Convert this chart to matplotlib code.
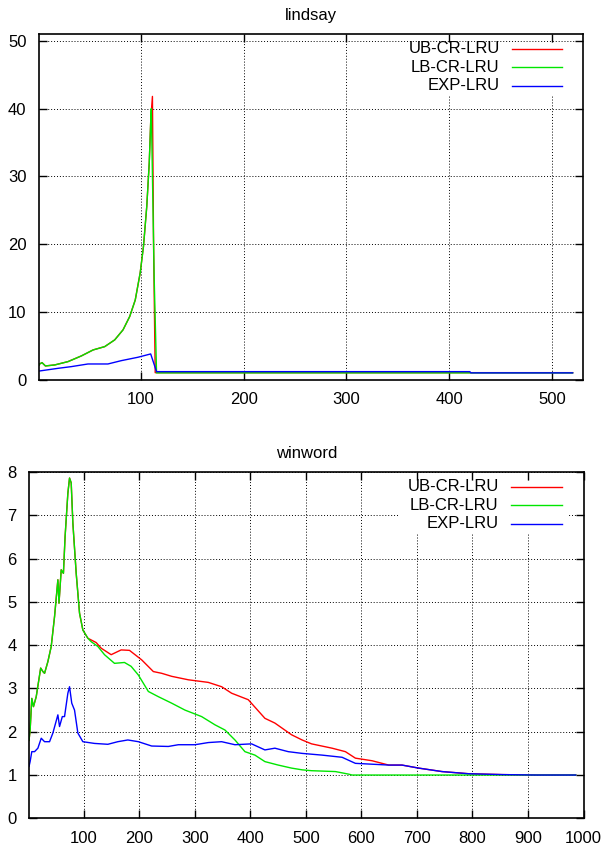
import matplotlib
matplotlib.use('Agg')
import matplotlib.pyplot as plt
from matplotlib.patches import Rectangle

plt.rcParams['font.family'] = ['Liberation Sans', 'DejaVu Sans']
plt.rcParams['font.size'] = 12

SERIES = ['UB-CR-LRU', 'LB-CR-LRU', 'EXP-LRU']
COLORS = ['#ff0000', '#00e600', '#0000ff']

# lindsay
lin_head_x = [1, 1.6, 3.9, 7.2, 16.3, 29.2, 42.2, 53.6, 64.9, 74.6, 82.7, 89.2, 94.6, 99.4, 102.6, 105.8, 108.2]
lin_head_y = [2.2, 2.36, 2.56, 2.07, 2.22, 2.71, 3.55, 4.43, 4.92, 5.91, 7.39, 9.36, 11.8, 15.8, 19.7, 25.6, 32]
lin_ub_x = lin_head_x + [109.7, 111.3, 112.4, 114, 520]
lin_ub_y = lin_head_y + [38.4, 41.8, 20, 1.08, 1.08]
lin_lb_x = lin_head_x + [109.7, 110.2, 113, 115.3, 520]
lin_lb_y = lin_head_y + [38.4, 40, 15, 1.05, 1.05]
lin_exp_x = [1, 1.6, 19.5, 32.4, 48.6, 68, 81, 97.2, 109.6, 115.3, 420, 421, 520]
lin_exp_y = [1.33, 1.33, 1.72, 1.97, 2.36, 2.36, 2.85, 3.35, 3.84, 1.23, 1.23, 1.05, 1.05]

# winword
win_head_x = [1, 3, 6, 9, 14, 22, 26, 29, 35, 41, 47, 53, 55, 59, 63, 66, 71, 74, 77, 80, 86, 92, 98, 107]
win_head_y = [1.8, 2.04, 2.77, 2.58, 2.81, 3.47, 3.39, 3.35, 3.62, 3.97, 4.66, 5.51, 4.97, 5.74, 5.66, 6.51,
              7.51, 7.86, 7.75, 6.82, 5.66, 4.74, 4.35, 4.16]
win_ub_x = win_head_x + [119, 122, 131, 149, 167, 182, 204, 225, 240, 258, 288, 324, 348, 366, 396, 426, 444,
                         474, 493, 510, 547, 571, 589, 619, 649, 673, 703, 745, 793, 854, 914, 986]
win_ub_y = win_head_y + [4.08, 4.06, 3.93, 3.78, 3.89, 3.88, 3.66, 3.39, 3.35, 3.28, 3.2, 3.14, 3.04, 2.89, 2.74,
                         2.31, 2.2, 1.93, 1.81, 1.72, 1.62, 1.54, 1.39, 1.33, 1.23, 1.23, 1.16, 1.08, 1.03, 1.01,
                         1.0, 1.0]
win_lb_x = win_head_x + [113, 125, 137, 155, 173, 185, 198, 216, 234, 258, 282, 312, 336, 354, 372, 390, 408,
                         426, 450, 474, 493, 510, 553, 577, 583, 986]
win_lb_y = win_head_y + [4.08, 3.97, 3.78, 3.58, 3.6, 3.51, 3.31, 2.93, 2.81, 2.66, 2.5, 2.35, 2.16, 2.04, 1.81,
                         1.54, 1.46, 1.31, 1.23, 1.16, 1.12, 1.1, 1.08, 1.02, 1.0, 1.0]
win_exp_x = [1, 3, 6, 11, 17, 23, 29, 38, 44, 53, 56, 61, 65, 71, 74, 78, 83, 89, 98, 119, 143, 161, 179, 198,
             222, 252, 270, 300, 324, 348, 372, 402, 426, 444, 468, 493, 529, 565, 589, 649, 673, 703, 745, 793,
             854, 914, 986]
win_exp_y = [1.2, 1.31, 1.54, 1.54, 1.62, 1.85, 1.77, 1.77, 1.97, 2.39, 2.12, 2.35, 2.35, 2.89, 3.04, 2.66, 2.5,
             1.97, 1.77, 1.73, 1.71, 1.77, 1.81, 1.77, 1.67, 1.66, 1.7, 1.7, 1.75, 1.77, 1.7, 1.72, 1.58, 1.62,
             1.54, 1.5, 1.46, 1.41, 1.27, 1.23, 1.23, 1.16, 1.08, 1.03, 1.01, 1.0, 1.0]


def draw_panel(ax, title, curves, xlim, ylim, xticks, yticks):
    ax.set_axisbelow(True)
    for (xs, ys), color in zip(curves, COLORS):
        ax.plot(xs, ys, color=color, linewidth=1.0, zorder=2)
    ax.set_xlim(*xlim)
    ax.set_ylim(*ylim)
    ax.set_xticks(xticks)
    ax.set_yticks(yticks)
    ax.grid(True, color='black', linestyle=(0, (1, 2)), linewidth=0.7)
    ax.tick_params(direction='in', top=True, right=True, length=6, width=1.0, pad=9)
    for sp in ax.spines.values():
        sp.set_linewidth(1.2)
    ax.set_title(title, fontsize=12, pad=10)

    # key in the upper right, text right-aligned before the sample line
    ax.add_patch(Rectangle((0.667, 0.824), 0.305, 0.15, transform=ax.transAxes,
                           facecolor='white', edgecolor='none', zorder=1))
    for i, (name, color) in enumerate(zip(SERIES, COLORS)):
        yk = 0.957 - i * 0.053
        ax.text(0.847, yk, name, transform=ax.transAxes, ha='right', va='center', zorder=3)
        ax.plot([0.87, 0.961], [yk, yk], transform=ax.transAxes, color=color, linewidth=1.0, zorder=3)


fig = plt.figure(figsize=(6.07, 8.48), dpi=100)
ax1 = fig.add_axes([0.0643, 0.5519, 0.896, 0.408])
ax2 = fig.add_axes([0.0478, 0.035, 0.9135, 0.4084])

draw_panel(ax1, 'lindsay',
           [(lin_ub_x, lin_ub_y), (lin_lb_x, lin_lb_y), (lin_exp_x, lin_exp_y)],
           (1, 530), (0, 51), [100, 200, 300, 400, 500], [0, 10, 20, 30, 40, 50])
draw_panel(ax2, 'winword',
           [(win_ub_x, win_ub_y), (win_lb_x, win_lb_y), (win_exp_x, win_exp_y)],
           (1, 1000), (0, 8), list(range(100, 1001, 100)), list(range(0, 9)))

fig.savefig('out.png', dpi=100)
